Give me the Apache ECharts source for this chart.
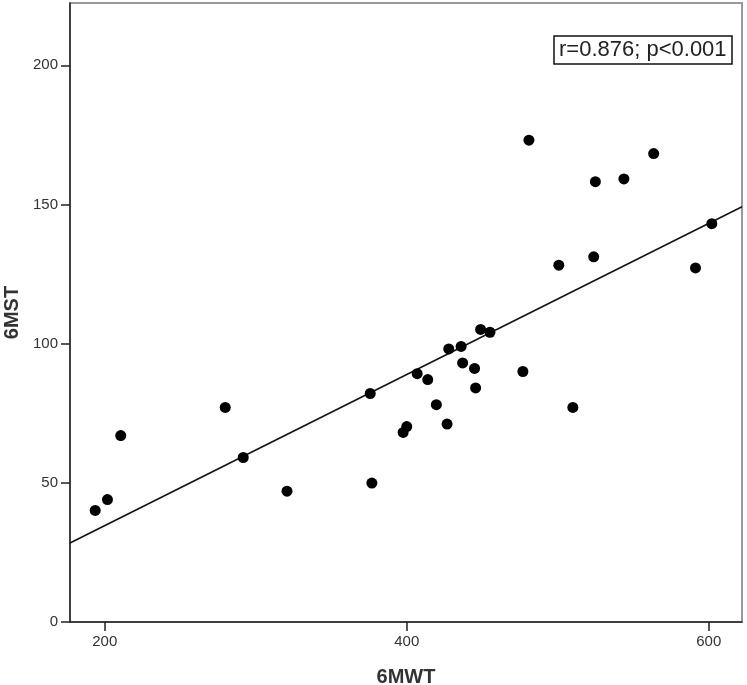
<!DOCTYPE html>
<html>
<head>
<meta charset="utf-8">
<script src="https://cdn.jsdelivr.net/npm/echarts@6/dist/echarts.min.js"></script>
<style>
html,body{margin:0;padding:0;background:#fff;}
#chart{width:747px;height:685px;}
</style>
</head>
<body>
<div id="chart"></div>
<script>
// 6MWT (x) values
var walkTest = [193.7, 201.8, 210.6, 279.8, 291.7, 320.7, 376.9, 375.8, 397.6, 400.0,
  406.9, 413.9, 419.6, 426.7, 427.8, 436.0, 437.0, 444.9, 445.6, 448.9,
  455.1, 476.9, 480.9, 500.7, 510.0, 523.8, 524.9, 543.8, 563.5, 591.2, 602.0];
// 6MST (y) values
var stepTest = [40.1, 44.0, 67.0, 77.1, 59.1, 47.0, 49.9, 82.1, 68.1, 70.2,
  89.2, 87.1, 78.1, 71.1, 98.1, 99.0, 93.1, 91.1, 84.1, 105.1,
  104.1, 90.0, 173.1, 128.2, 77.1, 131.2, 158.2, 159.2, 168.3, 127.2, 143.1];
// fit line end points (x, y)
var fitX = [177, 622];
var fitY = [28.4, 149.2];
var xTicks = [200, 400, 600];
var yTicks = [0, 50, 100, 150, 200];
var annotation = 'r=0.876; p<0.001';
var xName = '6MWT';
var yName = '6MST';

var points = walkTest.map(function (v, i) { return [v, stepTest[i]]; });
var fit = fitX.map(function (v, i) { return [v, fitY[i]]; });

var chart = echarts.init(document.getElementById('chart'), null, {renderer: 'canvas'});
var font = 'Liberation Sans, Arial, sans-serif';
chart.setOption({
  animation: false,
  backgroundColor: '#fff',
  grid: {left: 70, right: 5, top: 3, bottom: 63, show: true, borderColor: '#999', borderWidth: 2,
    containLabel: false, outerBoundsMode: 'none'},
  xAxis: {
    type: 'value', min: 177, max: 622,
    name: xName, nameLocation: 'middle', nameGap: 45,
    nameTextStyle: {fontFamily: font, fontSize: 20, fontWeight: 'bold', color: '#333'},
    axisLine: {show: true, onZero: false, lineStyle: {color: '#222', width: 1.5}},
    axisTick: {show: true, inside: false, length: 9, customValues: xTicks, lineStyle: {color: '#222', width: 1.5}},
    axisLabel: {customValues: xTicks, fontFamily: font, fontSize: 15, color: '#333', margin: 12},
    splitLine: {show: false}
  },
  yAxis: {
    type: 'value', min: 0, max: 222.4,
    name: yName, nameLocation: 'middle', nameGap: 48,
    nameTextStyle: {fontFamily: font, fontSize: 20, fontWeight: 'bold', color: '#333'},
    axisLine: {show: true, onZero: false, lineStyle: {color: '#222', width: 1.5}},
    axisTick: {show: true, inside: false, length: 9, customValues: yTicks, lineStyle: {color: '#222', width: 1.5}},
    axisLabel: {customValues: yTicks, fontFamily: font, fontSize: 15, color: '#333', margin: 12},
    splitLine: {show: false}
  },
  series: [
    {type: 'line', data: fit, symbol: 'none', lineStyle: {color: '#111', width: 1.5}, silent: true, z: 2},
    {type: 'scatter', data: points, symbolSize: 11, itemStyle: {color: '#000', opacity: 1}, z: 3}
  ],
  graphic: [
    {type: 'rect', shape: {x: 554, y: 36, width: 178, height: 28}, style: {fill: '#fff', stroke: '#111', lineWidth: 1.5}},
    {type: 'text', x: 559, y: 50, style: {text: annotation, font: '22px ' + font, fill: '#222', verticalAlign: 'middle'}}
  ]
});
</script>
</body>
</html>
